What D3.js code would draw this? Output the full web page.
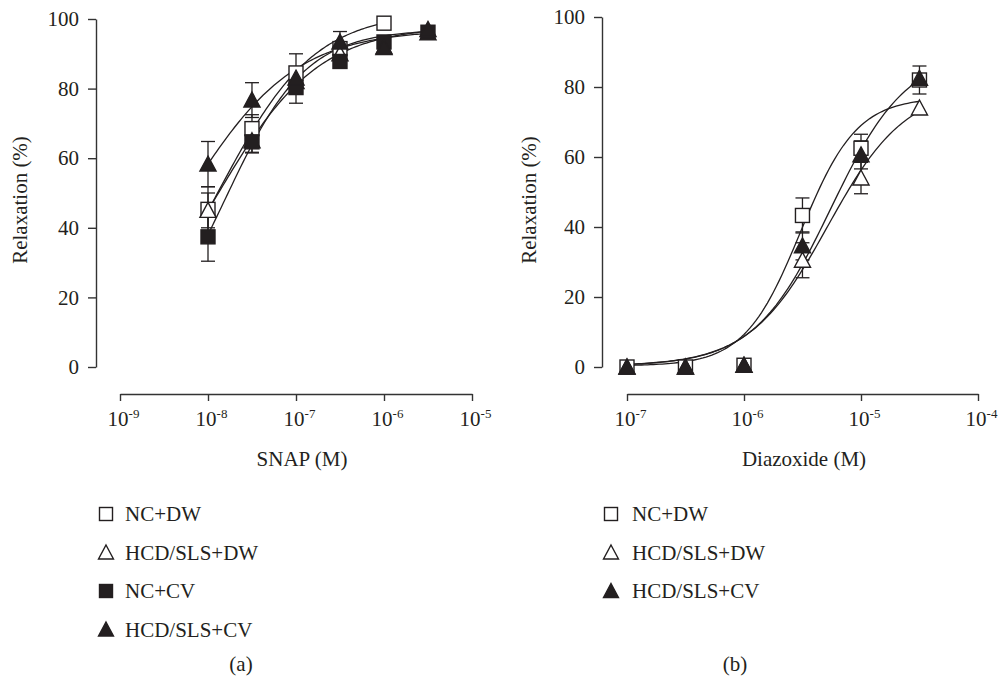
<!DOCTYPE html>
<html>
<head>
<meta charset="utf-8">
<script src="https://cdn.jsdelivr.net/npm/d3@7"></script>
<style>
  body { margin: 0; background: #fff; }
</style>
</head>
<body>
<div id="chart"></div>
<script>
// concentration-response curves, two panels (SNAP and diazoxide)

const seriesNames = ["NC+DW", "HCD/SLS+DW", "NC+CV", "HCD/SLS+CV"];
const yTicks = [0, 20, 40, 60, 80, 100];

// panel (a) SNAP
const snapConc = [1e-8, 3.16e-8, 1e-7, 3.16e-7, 1e-6, 3.16e-6];
const snapTicks = [1e-9, 1e-8, 1e-7, 1e-6, 1e-5];
const snapNcDw = [45.3, 68.5, 84.5, 91.5, 98.8];
const snapNcDwErr = [6.5, 4, 5.5, 2, 0];
const snapHcdDw = [45, 65, 82, 90, 92, 96];
const snapHcdDwErr = [5, 3.5, 3, 2, 1, 1];
const snapNcCv = [37.4, 64.7, 80.3, 87.8, 93.4, 96.2];
const snapNcCvErr = [7, 3, 4.5, 1.5, 1, 1];
const snapHcdCv = [58.3, 76.7, 83, 93.4, 91.8, 97];
const snapHcdCvErr = [6.5, 5, 3, 3, 1, 1];
// fitted sigmoid parameters: top, logEC50, hill slope
const snapFitTop = [102, 98, 97, 97];
const snapFitLogEc50 = [-7.87, -7.905, -7.8, -8.254];
const snapFitHill = [0.8, 0.75, 0.95, 0.7];

// panel (b) diazoxide
const diazConc = [1e-7, 3.16e-7, 1e-6, 3.16e-6, 1e-5, 3.16e-5];
const diazTicks = [1e-7, 1e-6, 1e-5, 1e-4];
const diazNcDw = [0, 0, 0.5, 43.3, 62.5, 82];
const diazNcDwErr = [0.5, 0.5, 0.5, 5, 4, 4];
const diazHcdDw = [0, 0, 0.5, 30.5, 54, 74];
const diazHcdDwErr = [0.5, 0.5, 0.5, 5, 4.5, 0.5];
const diazHcdCv = [0, 0, 0.5, 34.6, 60.6, 82.5];
const diazHcdCvErr = [0.5, 0.5, 0.5, 4, 4, 1];
const diazFitBottom = 0.3;
const diazFitTop = [77, 80, 90];
const diazFitLogEc50 = [-5.516, -5.286, -5.26];
const diazFitHill = [1.81, 1.3, 1.33];

const ink = "#231f20";
const fontSize = 21;
const serif = "'Liberation Serif', 'Times New Roman', Times, serif";

const svg = d3.select("#chart").append("svg")
  .attr("width", 998)
  .attr("height", 678)
  .attr("font-family", serif);

// marker shapes per series: open square, open triangle, filled square, filled triangle
const markerStyle = {
  "NC+DW": { shape: "square", fill: "#fff" },
  "HCD/SLS+DW": { shape: "triangle", fill: "#fff" },
  "NC+CV": { shape: "square", fill: ink },
  "HCD/SLS+CV": { shape: "triangle", fill: ink }
};

function drawMarker(g, name, x, y, size) {
  const st = markerStyle[name];
  if (st.shape === "square") {
    g.append("rect")
      .attr("x", x - size / 2).attr("y", y - size / 2)
      .attr("width", size).attr("height", size)
      .attr("fill", st.fill).attr("stroke", ink).attr("stroke-width", 1.4);
  } else {
    const w = size * 1.15, h = size;
    g.append("path")
      .attr("d", `M${x},${y - h / 2 - 1}L${x + w / 2},${y + h / 2}L${x - w / 2},${y + h / 2}Z`)
      .attr("fill", st.fill).attr("stroke", ink).attr("stroke-width", 1.4)
      .attr("stroke-linejoin", "miter");
  }
}

function drawPanel(p) {
  const x = d3.scaleLog().domain(p.xDomain).range(p.xRange);
  const y = d3.scaleLinear().domain([0, 100]).range(p.yRange);
  const g = svg.append("g");

  // y axis (detached from x axis)
  const yAxis = g.append("g")
    .attr("transform", `translate(${p.yAxisX},0)`)
    .call(d3.axisLeft(y).tickValues(yTicks).tickSize(8).tickPadding(9).tickSizeOuter(0))
    .attr("font-family", serif)
    .attr("font-size", fontSize);
  yAxis.select(".domain").attr("stroke", "#333").attr("stroke-width", 1.4);
  yAxis.selectAll(".tick line").attr("stroke", "#333").attr("stroke-width", 1.4);
  yAxis.selectAll(".tick text").attr("fill", ink);

  // x axis with 10^n labels
  const xAxis = g.append("g")
    .attr("transform", `translate(0,${p.xAxisY})`)
    .call(d3.axisBottom(x).tickValues(p.ticks).tickSize(7).tickSizeOuter(0).tickFormat(""))
    .attr("font-family", serif)
    .attr("font-size", fontSize);
  xAxis.select(".domain").attr("stroke", "#333").attr("stroke-width", 1.4);
  xAxis.selectAll(".tick line").attr("stroke", "#333").attr("stroke-width", 1.4);
  xAxis.selectAll(".tick").append("text")
    .attr("x", 3)
    .attr("y", 32)
    .attr("fill", ink)
    .attr("text-anchor", "middle")
    .each(function (d) {
      const t = d3.select(this);
      t.append("tspan").text("10");
      t.append("tspan").attr("dy", -8).attr("font-size", 13).text(Math.round(Math.log10(d)));
    });

  g.append("text")
    .attr("x", p.xTitleX)
    .attr("y", p.xAxisY + 72)
    .attr("text-anchor", "middle")
    .attr("font-size", fontSize)
    .attr("fill", ink)
    .text(p.xTitle);

  g.append("text")
    .attr("transform", `translate(${p.yTitleX},200) rotate(-90)`)
    .attr("text-anchor", "middle")
    .attr("font-size", fontSize)
    .attr("fill", ink)
    .text("Relaxation (%)");

  // fitted curves
  const line = d3.line().x(d => x(d[0])).y(d => y(d[1]));
  p.series.forEach(s => {
    const lo = Math.log10(p.conc[0]);
    const hi = Math.log10(p.conc[s.values.length - 1]);
    const pts = d3.range(0, 101).map(i => {
      const lx = lo + (hi - lo) * i / 100;
      const v = s.fit.bottom + (s.fit.top - s.fit.bottom) / (1 + Math.pow(10, (s.fit.logEc50 - lx) * s.fit.hill));
      return [Math.pow(10, lx), v];
    });
    g.append("path")
      .attr("d", line(pts))
      .attr("fill", "none")
      .attr("stroke", ink)
      .attr("stroke-width", 1.3);
  });

  // error bars
  p.series.forEach(s => {
    s.values.forEach((v, i) => {
      const cx = x(p.conc[i]);
      if (s.err[i] <= 0.6) return;
      const eb = g.append("g").attr("stroke", ink).attr("stroke-width", 1.3);
      eb.append("line").attr("x1", cx).attr("x2", cx).attr("y1", y(v - s.err[i])).attr("y2", y(v + s.err[i]));
      [v - s.err[i], v + s.err[i]].forEach(e => {
        eb.append("line").attr("x1", cx - 7).attr("x2", cx + 7).attr("y1", y(e)).attr("y2", y(e));
      });
    });
  });

  // markers
  p.series.forEach(s => {
    s.values.forEach((v, i) => drawMarker(g, s.name, x(p.conc[i]), y(v), 14));
  });

  // legend
  p.series.forEach((s, i) => {
    const ly = p.legendY + i * 38.5;
    drawMarker(g, s.name, p.legendX, ly, 13);
    g.append("text")
      .attr("x", p.legendTextX)
      .attr("y", ly)
      .attr("dy", "0.35em")
      .attr("font-size", fontSize)
      .attr("fill", ink)
      .text(s.name);
  });

  g.append("text")
    .attr("x", p.labelX)
    .attr("y", 664)
    .attr("dy", "0.35em")
    .attr("text-anchor", "middle")
    .attr("font-size", fontSize)
    .attr("fill", ink)
    .text(p.label);
}

drawPanel({
  xDomain: [1e-9, 1e-5], xRange: [120, 472], yRange: [367, 19],
  yAxisX: 96, xAxisY: 394, yTitleX: 27, xTitleX: 302,
  ticks: snapTicks, conc: snapConc, xTitle: "SNAP (M)",
  legendX: 106, legendTextX: 125, legendY: 514, labelX: 241, label: "(a)",
  series: [
    { name: seriesNames[0], values: snapNcDw, err: snapNcDwErr,
      fit: { bottom: 0, top: snapFitTop[0], logEc50: snapFitLogEc50[0], hill: snapFitHill[0] } },
    { name: seriesNames[1], values: snapHcdDw, err: snapHcdDwErr,
      fit: { bottom: 0, top: snapFitTop[1], logEc50: snapFitLogEc50[1], hill: snapFitHill[1] } },
    { name: seriesNames[2], values: snapNcCv, err: snapNcCvErr,
      fit: { bottom: 0, top: snapFitTop[2], logEc50: snapFitLogEc50[2], hill: snapFitHill[2] } },
    { name: seriesNames[3], values: snapHcdCv, err: snapHcdCvErr,
      fit: { bottom: 0, top: snapFitTop[3], logEc50: snapFitLogEc50[3], hill: snapFitHill[3] } }
  ]
});

drawPanel({
  xDomain: [1e-7, 1e-4], xRange: [627, 978], yRange: [367, 17],
  yAxisX: 602, xAxisY: 394, yTitleX: 536, xTitleX: 804,
  ticks: diazTicks, conc: diazConc, xTitle: "Diazoxide (M)",
  legendX: 611, legendTextX: 632, legendY: 514, labelX: 735, label: "(b)",
  series: [
    { name: seriesNames[0], values: diazNcDw, err: diazNcDwErr,
      fit: { bottom: diazFitBottom, top: diazFitTop[0], logEc50: diazFitLogEc50[0], hill: diazFitHill[0] } },
    { name: seriesNames[1], values: diazHcdDw, err: diazHcdDwErr,
      fit: { bottom: diazFitBottom, top: diazFitTop[1], logEc50: diazFitLogEc50[1], hill: diazFitHill[1] } },
    { name: seriesNames[3], values: diazHcdCv, err: diazHcdCvErr,
      fit: { bottom: diazFitBottom, top: diazFitTop[2], logEc50: diazFitLogEc50[2], hill: diazFitHill[2] } }
  ]
});
</script>
</body>
</html>
